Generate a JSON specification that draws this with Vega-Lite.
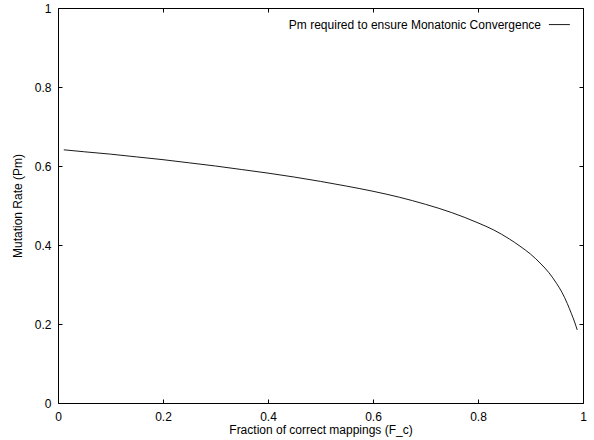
{
  "$schema": "https://vega.github.io/schema/vega-lite/v6.json",
  "width": 525,
  "height": 395,
  "autosize": {"type": "none"},
  "padding": {"left": 58, "top": 8, "right": 11, "bottom": 37},
  "background": "#ffffff",
  "config": {
    "font": "Liberation Sans",
    "view": {"stroke": "#000000", "strokeWidth": 1},
    "axis": {
      "grid": false,
      "domain": false,
      "ticks": true,
      "tickColor": "#000000",
      "tickSize": -4,
      "tickWidth": 1,
      "labelColor": "#000000",
      "labelFontSize": 12,
      "labelFont": "Liberation Sans",
      "labelFlush": false,
      "labelOverlap": false,
      "labelBound": false,
      "titleColor": "#000000",
      "titleFont": "Liberation Sans",
      "titleFontSize": 12,
      "titleFontWeight": "normal"
    }
  },
  "datasets": {
    "curve": [
      {"fc": 0.011, "pm": 0.641},
      {"fc": 0.05, "pm": 0.636},
      {"fc": 0.1, "pm": 0.630},
      {"fc": 0.15, "pm": 0.623},
      {"fc": 0.2, "pm": 0.616},
      {"fc": 0.25, "pm": 0.608},
      {"fc": 0.3, "pm": 0.600},
      {"fc": 0.35, "pm": 0.591},
      {"fc": 0.4, "pm": 0.582},
      {"fc": 0.45, "pm": 0.572},
      {"fc": 0.5, "pm": 0.561},
      {"fc": 0.55, "pm": 0.549},
      {"fc": 0.6, "pm": 0.536},
      {"fc": 0.65, "pm": 0.521},
      {"fc": 0.7, "pm": 0.503},
      {"fc": 0.75, "pm": 0.482},
      {"fc": 0.8, "pm": 0.456},
      {"fc": 0.83, "pm": 0.438},
      {"fc": 0.86, "pm": 0.415},
      {"fc": 0.88, "pm": 0.397},
      {"fc": 0.9, "pm": 0.377},
      {"fc": 0.92, "pm": 0.352},
      {"fc": 0.935, "pm": 0.330},
      {"fc": 0.95, "pm": 0.302},
      {"fc": 0.96, "pm": 0.280},
      {"fc": 0.97, "pm": 0.252},
      {"fc": 0.978, "pm": 0.226},
      {"fc": 0.984, "pm": 0.205},
      {"fc": 0.989, "pm": 0.185}
    ],
    "key": [{"label": "Pm required to ensure Monatonic Convergence"}]
  },
  "resolve": {"axis": {"x": "independent", "y": "independent"}, "scale": {"x": "shared", "y": "shared"}},
  "layer": [
    {
      "data": {"name": "curve"},
      "mark": {"type": "line", "stroke": "#000000", "strokeWidth": 0.9, "interpolate": "monotone"},
      "encoding": {
        "x": {
          "field": "fc", "type": "quantitative",
          "scale": {"domain": [0, 1], "nice": false, "zero": false},
          "axis": {"orient": "bottom", "values": [0, 0.2, 0.4, 0.6, 0.8, 1], "format": "~g", "labelPadding": 12, "title": "Fraction of correct mappings (F_c)", "titlePadding": 2}
        },
        "y": {
          "field": "pm", "type": "quantitative",
          "scale": {"domain": [0, 1], "nice": false, "zero": false},
          "axis": {"orient": "left", "values": [0, 0.2, 0.4, 0.6, 0.8, 1], "format": "~g", "labelPadding": 11, "title": "Mutation Rate (Pm)", "titlePadding": 10}
        }
      }
    },
    {
      "data": {"name": "curve"},
      "mark": {"type": "line", "strokeOpacity": 0},
      "encoding": {
        "x": {
          "field": "fc", "type": "quantitative",
          "axis": {"orient": "top", "values": [0, 0.2, 0.4, 0.6, 0.8, 1], "labels": false, "title": null}
        },
        "y": {
          "field": "pm", "type": "quantitative",
          "axis": {"orient": "right", "values": [0, 0.2, 0.4, 0.6, 0.8, 1], "labels": false, "title": null}
        }
      }
    },
    {
      "data": {"name": "key"},
      "mark": {"type": "text", "align": "right", "baseline": "middle", "fontSize": 12, "font": "Liberation Sans", "color": "#000000"},
      "encoding": {
        "x": {"datum": 0.92, "type": "quantitative", "axis": null},
        "y": {"datum": 0.958, "type": "quantitative", "axis": null},
        "text": {"field": "label"}
      }
    },
    {
      "data": {"name": "key"},
      "mark": {"type": "rule", "stroke": "#000000", "strokeWidth": 0.9},
      "encoding": {
        "x": {"datum": 0.935, "type": "quantitative", "axis": null},
        "x2": {"datum": 0.975},
        "y": {"datum": 0.958, "type": "quantitative", "axis": null}
      }
    }
  ]
}
